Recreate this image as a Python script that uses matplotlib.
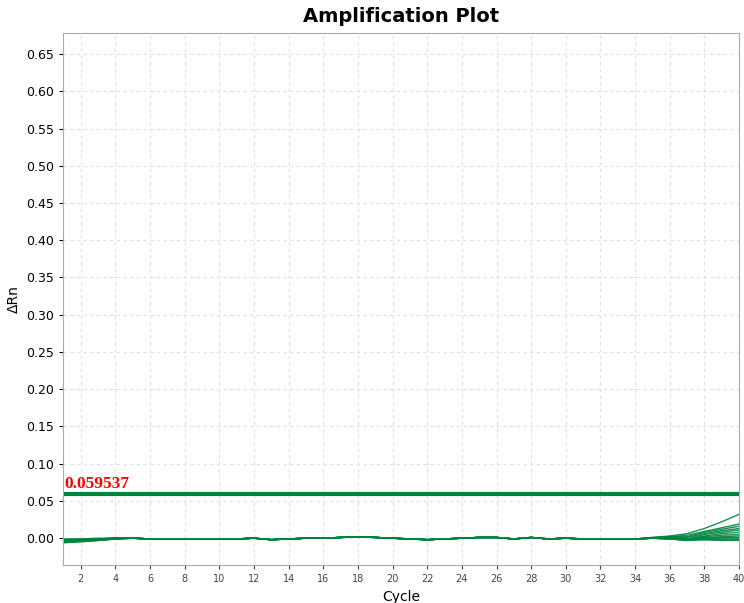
import numpy as np
import matplotlib.pyplot as plt

cycles = np.arange(1, 41)
threshold = 0.059537

# cycles 1-4, one list per well
heads = [
    [-0.006, -0.005, -0.003, -0.001],
    [-0.005, -0.004, -0.003, -0.001],
    [-0.004, -0.003, -0.002, -0.001],
    [-0.003, -0.003, -0.002, 0.000],
    [-0.002, -0.002, -0.001, 0.000],
    [-0.001, -0.001, -0.001, 0.000],
    [-0.005, -0.004, -0.002, 0.000],
    [-0.004, -0.004, -0.002, -0.001],
    [-0.003, -0.002, -0.001, 0.000],
    [-0.006, -0.004, -0.003, -0.001],
    [-0.002, -0.001, 0.000, 0.000],
    [-0.004, -0.003, -0.001, 0.000],
]

# cycles 5-34, shared by all wells
mid = [0.000, -0.001, -0.001, -0.001, -0.001, -0.001, -0.001, 0.000, -0.002, -0.001,
       0.000, 0.000, 0.001, 0.002, 0.001, 0.000, -0.001, -0.002, -0.001, 0.000,
       0.001, 0.001, -0.001, 0.001, -0.001, 0.000, -0.001, -0.001, -0.001, -0.001]

# cycles 35-40, one list per well
tails = [
    [0.001, 0.003, 0.006, 0.013, 0.022, 0.032],
    [0.001, 0.002, 0.004, 0.009, 0.014, 0.019],
    [0.000, 0.002, 0.002, 0.008, 0.012, 0.016],
    [0.000, 0.001, 0.001, 0.006, 0.010, 0.013],
    [0.000, 0.001, -0.001, 0.005, 0.008, 0.011],
    [0.000, 0.000, -0.002, 0.003, 0.006, 0.008],
    [0.000, 0.000, -0.001, 0.002, 0.004, 0.005],
    [0.000, -0.001, -0.002, 0.001, 0.002, 0.003],
    [0.000, 0.000, -0.002, 0.000, 0.001, 0.001],
    [0.000, -0.001, -0.003, -0.001, 0.000, 0.000],
    [0.000, -0.001, -0.002, -0.002, -0.002, -0.002],
    [0.000, -0.001, -0.003, -0.002, -0.003, -0.003],
]

green = '#00843D'

fig = plt.figure(figsize=(7.44, 6.03), dpi=100)
ax = fig.add_axes([0.0853, 0.063, 0.908, 0.882])

for h, t in zip(heads, tails):
    ax.plot(cycles, h + mid + t, color=green, lw=1.0, alpha=0.9)

ax.axhline(threshold, color=green, lw=3)
ax.text(1.05, threshold + 0.0025, f'{threshold:.6f}', color='red', fontsize=12.5,
        fontweight='bold', family='Liberation Serif', va='bottom', ha='left')

ax.set_xlim(1, 40)
ax.set_ylim(-0.036, 0.678)
ax.set_xticks(np.arange(2, 41, 2))
ax.set_yticks(np.arange(0, 0.651, 0.05))
ax.set_yticklabels([f'{v:.2f}' for v in np.arange(0, 0.651, 0.05)])
ax.tick_params(axis='x', labelsize=7, colors='#444444', length=3)
ax.tick_params(axis='y', labelsize=9, length=3)
ax.grid(True, ls=(0, (3, 3)), color='#e0e0e0', lw=0.8)
for s in ax.spines.values():
    s.set_color('#aaaaaa')

ax.set_xlabel('Cycle', fontsize=10)
ax.set_ylabel('ΔRn', fontsize=10)
ax.set_title('Amplification Plot', fontsize=14, fontweight='bold', pad=8)

fig.savefig('out.png', dpi=100)
